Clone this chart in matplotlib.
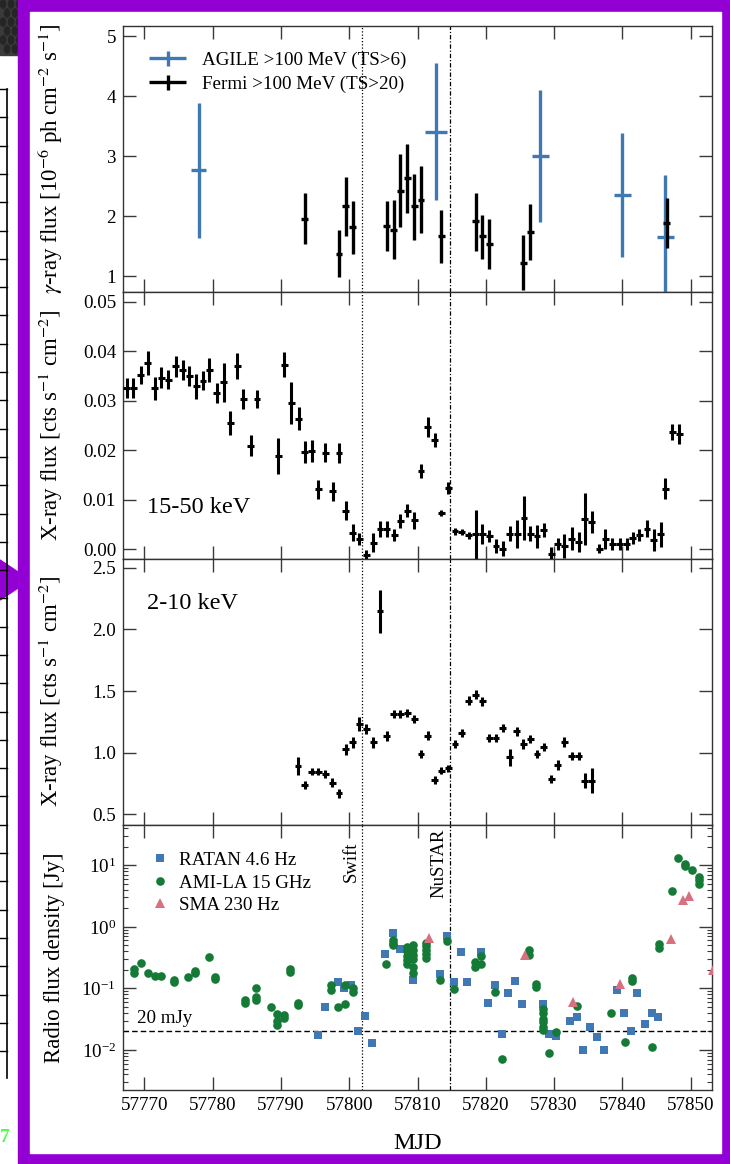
import numpy as np
import matplotlib
matplotlib.use("Agg")
import matplotlib.pyplot as plt
from matplotlib.patches import Rectangle, Polygon, Circle
from matplotlib.lines import Line2D
from matplotlib.legend_handler import HandlerErrorbar
from matplotlib.ticker import FixedLocator, FormatStrFormatter, LogLocator, NullFormatter

plt.rcParams["font.family"] = ["Liberation Serif", "DejaVu Serif"]
plt.rcParams["mathtext.fontset"] = "stix"

# ---------------- gamma rays ----------------
agile_mjd = [57778.0, 57812.7, 57828.0, 57840.0, 57846.3]
agile_flux = [2.77, 3.41, 3.01, 2.35, 1.66]
agile_err_hi = [1.12, 1.15, 1.10, 1.03, 1.03]
agile_err_lo = [1.13, 1.14, 1.11, 1.03, 0.95]
agile_halfbin = [1.1, 1.6, 1.2, 1.3, 1.2]

fermi_mjd = [57793.5, 57798.5, 57799.5, 57800.5, 57805.5, 57806.5, 57807.5, 57808.5,
             57809.5, 57810.5, 57813.5, 57818.5, 57819.5, 57820.5, 57825.5, 57826.5, 57846.5]
fermi_flux = [1.96, 1.38, 2.17, 1.82, 1.84, 1.78, 2.43, 2.64,
              2.17, 2.28, 1.68, 1.92, 1.67, 1.54, 1.23, 1.74, 1.89]
fermi_err_hi = [0.43, 0.39, 0.49, 0.44, 0.41, 0.49, 0.60, 0.57,
                0.54, 0.56, 0.43, 0.47, 0.36, 0.42, 0.46, 0.47, 0.42]
fermi_err_lo = [0.42, 0.39, 0.50, 0.44, 0.41, 0.49, 0.61, 0.58,
                0.57, 0.55, 0.45, 0.49, 0.38, 0.42, 0.45, 0.47, 0.41]

# ---------------- hard X-rays, 15-50 keV ----------------
bat_mjd = [57767.4, 57768.4, 57769.5, 57770.5, 57771.5, 57772.5, 57773.5, 57774.6, 57775.6, 57776.6,
           57777.6, 57778.6, 57779.5, 57780.6, 57781.6, 57782.6, 57783.6, 57784.5, 57785.6, 57786.5,
           57789.6, 57790.5, 57791.5, 57792.6, 57793.5, 57794.5, 57795.5, 57796.5, 57797.6, 57798.5,
           57799.5, 57800.5, 57801.5, 57802.5, 57803.5, 57804.5, 57805.5, 57806.6, 57807.5, 57808.5,
           57809.5, 57810.5, 57811.5, 57812.5, 57813.5, 57814.5, 57815.5, 57816.5, 57817.5, 57818.5,
           57819.5, 57820.5, 57821.5, 57822.5, 57823.5, 57824.6, 57825.6, 57826.5, 57827.5, 57828.5,
           57829.6, 57830.5, 57831.5, 57832.6, 57833.6, 57834.5, 57835.5, 57836.6, 57837.5, 57838.5,
           57839.6, 57840.6, 57841.5, 57842.5, 57843.6, 57844.6, 57845.6, 57846.3, 57847.3, 57848.3]
bat_flux = [0.0326, 0.0326, 0.0352, 0.0377, 0.0325, 0.0347, 0.0343, 0.0370, 0.0362, 0.0350,
            0.0329, 0.0341, 0.0362, 0.0316, 0.0337, 0.0255, 0.0370, 0.0304, 0.0209, 0.0304,
            0.0188, 0.0373, 0.0296, 0.0264, 0.0196, 0.0198, 0.0121, 0.0195, 0.0117, 0.0194,
            0.0078, 0.0033, 0.0020, -0.0011, 0.0013, 0.0041, 0.0041, 0.0028, 0.0057, 0.0078,
            0.0058, 0.0158, 0.0247, 0.0220, 0.0073, 0.0124, 0.0036, 0.0034, 0.0028, 0.0030,
            0.0031, 0.0026, 0.0006, 0.0001, 0.0031, 0.0031, 0.0063, 0.0031, 0.0026, 0.0039,
            -0.0009, 0.0011, 0.0007, 0.0021, 0.0014, 0.0061, 0.0055, 0.0001, 0.0021, 0.0011,
            0.0011, 0.0011, 0.0022, 0.0028, 0.0041, 0.0019, 0.0030, 0.0122, 0.0237, 0.0233]
bat_err = [0.0020, 0.0020, 0.0018, 0.0024, 0.0023, 0.0021, 0.0020, 0.0021, 0.0020, 0.0020,
           0.0025, 0.0020, 0.0025, 0.0020, 0.0039, 0.0025, 0.0026, 0.0020, 0.0021, 0.0018,
           0.0036, 0.0025, 0.0042, 0.0024, 0.0022, 0.0022, 0.0019, 0.0019, 0.0019, 0.0020,
           0.0019, 0.0017, 0.0012, 0.0010, 0.0019, 0.0016, 0.0016, 0.0012, 0.0015, 0.0014,
           0.0018, 0.0015, 0.0021, 0.0014, 0.0006, 0.0012, 0.0007, 0.0006, 0.0007, 0.0049,
           0.0020, 0.0012, 0.0014, 0.0015, 0.0015, 0.0028, 0.0045, 0.0015, 0.0023, 0.0014,
           0.0014, 0.0012, 0.0024, 0.0023, 0.0020, 0.0052, 0.0023, 0.0009, 0.0020, 0.0012,
           0.0012, 0.0012, 0.0012, 0.0012, 0.0017, 0.0022, 0.0025, 0.0021, 0.0017, 0.0020]

# ---------------- soft X-rays, 2-10 keV ----------------
xrt_mjd = [57792.5, 57793.5, 57794.5, 57795.5, 57796.5, 57797.5, 57798.5, 57799.5, 57800.5, 57801.5,
           57802.5, 57803.5, 57804.5, 57805.5, 57806.5, 57807.5, 57808.5, 57809.5, 57810.5, 57811.5,
           57812.5, 57813.5, 57814.5, 57815.5, 57816.5, 57817.5, 57818.5, 57819.5, 57820.5, 57821.5,
           57822.5, 57823.5, 57824.5, 57825.5, 57826.5, 57827.5, 57828.5, 57829.6, 57830.5, 57831.5,
           57832.6, 57833.6, 57834.5, 57835.5]
xrt_flux = [0.893, 0.739, 0.847, 0.847, 0.828, 0.757, 0.671, 1.028, 1.085, 1.232,
            1.191, 1.085, 2.148, 1.137, 1.313, 1.313, 1.321, 1.272, 0.990, 1.137,
            0.779, 0.855, 0.874, 1.069, 1.159, 1.421, 1.470, 1.416, 1.118, 1.118,
            1.199, 0.963, 1.172, 1.072, 1.110, 0.990, 1.045, 0.787, 0.901, 1.085,
            0.974, 0.974, 0.774, 0.774]
xrt_err = [0.075, 0.035, 0.030, 0.030, 0.035, 0.035, 0.035, 0.045, 0.045, 0.055,
           0.040, 0.045, 0.175, 0.040, 0.035, 0.035, 0.035, 0.035, 0.035, 0.035,
           0.030, 0.030, 0.030, 0.035, 0.035, 0.035, 0.035, 0.035, 0.035, 0.035,
           0.035, 0.070, 0.035, 0.040, 0.035, 0.035, 0.035, 0.035, 0.040, 0.040,
           0.035, 0.035, 0.060, 0.100]

# ---------------- radio ----------------
ratan_mjd = [57795.4, 57796.4, 57798.3, 57799.3, 57800.2, 57801.3, 57802.3, 57803.3, 57805.3, 57806.4,
             57807.4, 57809.4, 57813.3, 57814.3, 57815.3, 57816.3, 57817.3, 57819.3, 57820.3, 57821.3,
             57822.3, 57823.3, 57824.3, 57825.3, 57828.3, 57829.3, 57830.3, 57832.3, 57833.3, 57834.3,
             57835.3, 57836.3, 57837.3, 57839.2, 57840.3, 57841.3, 57842.2, 57843.3, 57844.3, 57845.2]
ratan_flux = [0.0175, 0.0505, 0.125, 0.100, 0.113, 0.0203, 0.036, 0.013, 0.356, 0.78,
              0.434, 0.136, 0.171, 0.715, 0.125, 0.394, 0.128, 0.394, 0.057, 0.113,
              0.018, 0.085, 0.131, 0.055, 0.0557, 0.018, 0.017, 0.030, 0.0347, 0.010,
              0.0233, 0.016, 0.010, 0.094, 0.040, 0.020, 0.085, 0.026, 0.040, 0.0347]

ami_mjd = [57768.5, 57768.5, 57769.5, 57770.5, 57771.6, 57772.5, 57774.4, 57774.4, 57776.4, 57777.4,
           57777.4, 57779.4, 57780.4, 57780.4, 57784.7, 57784.7, 57786.4, 57786.4, 57786.4, 57788.5,
           57789.4, 57789.4, 57789.4, 57790.4, 57790.4, 57791.4, 57791.4, 57792.5, 57792.5, 57797.4,
           57797.4, 57798.4, 57799.4, 57799.4, 57800.5, 57800.5, 57805.4, 57806.4, 57806.4, 57806.4,
           57808.4, 57808.4, 57808.4, 57808.4, 57808.4, 57809.3, 57809.3, 57809.3, 57809.3, 57809.3,
           57809.3, 57811.3, 57811.3, 57811.3, 57811.3, 57811.3, 57813.3, 57814.3, 57815.3, 57818.4,
           57818.4, 57819.3, 57819.3, 57821.3, 57822.3, 57826.3, 57826.3, 57827.3, 57827.3, 57828.3,
           57828.3, 57828.3, 57828.3, 57828.3, 57828.3, 57829.3, 57830.3, 57833.3, 57838.3, 57840.4,
           57841.4, 57841.4, 57844.4, 57845.3, 57845.3, 57847.3, 57848.2, 57849.2, 57849.2, 57850.2,
           57851.2, 57851.2, 57851.2]
ami_flux = [0.21, 0.175, 0.26, 0.18, 0.16, 0.16, 0.135, 0.125, 0.155, 0.19,
            0.175, 0.327, 0.155, 0.14, 0.065, 0.058, 0.10, 0.073, 0.066, 0.050,
            0.039, 0.030, 0.025, 0.037, 0.033, 0.203, 0.186, 0.059, 0.054, 0.113,
            0.094, 0.050, 0.055, 0.113, 0.100, 0.088, 0.245, 0.61, 0.55, 0.50,
            0.47, 0.40, 0.34, 0.29, 0.25, 0.50, 0.42, 0.35, 0.30, 0.22,
            0.18, 0.55, 0.48, 0.42, 0.36, 0.31, 0.136, 0.59, 0.097, 0.27,
            0.22, 0.33, 0.25, 0.088, 0.0071, 0.42, 0.35, 0.116, 0.106, 0.047,
            0.040, 0.032, 0.028, 0.024, 0.021, 0.0088, 0.0198, 0.052, 0.040, 0.0137,
            0.145, 0.133, 0.0112, 0.52, 0.45, 3.79, 13.2, 10.6, 9.6, 8.3,
            6.46, 5.7, 4.9]

sma_mjd = [57811.7, 57825.8, 57832.8, 57839.6, 57847.1, 57848.9, 57849.8, 57853.3]
sma_flux = [0.66, 0.35, 0.061, 0.12, 0.63, 2.7, 3.18, 0.2]

swift_mjd = 57801.8
nustar_mjd = 57814.7
radio_floor = 0.02

C_BLUE = "#3f78b2"
C_GREEN = "#147a36"
C_PINK = "#d8717f"
C_FRAME = "#9300d4"
TICK_FS = 13.7
LABEL_FS = 16.5

W, H = 730, 1164
fig = plt.figure(figsize=(W / 100, H / 100), dpi=100)


def box(x0, y0, x1, y1):
    """pixel box (top-left origin) -> figure fraction rect"""
    return [x0 / W, 1 - y1 / H, (x1 - x0) / W, (y1 - y0) / H]


def frac(x, y):
    return x / W, 1 - y / H


# ---- surrounding slide decoration ----
ft = fig.transFigure
fig.patches.append(Rectangle(frac(0, 55), 18 / W, 55 / H, transform=ft, color="#3a3a3a", zorder=-5))
for i in range(4):
    for j in range(6):
        cx, cy = 3 + 8 * i + (4 if j % 2 else 0), 4 + 9 * j
        fig.patches.append(Circle(frac(cx, cy), 2.6 / W, transform=ft, color="#252525", zorder=-4))
# neighbouring panel peeking in on the left
fig.add_artist(Line2D([7 / W, 7 / W], [1 - 89 / H, 1 - 1078 / H], transform=ft, color="k", lw=1.2))
for yy in np.arange(89, 1079, 28.3):
    fig.add_artist(Line2D([0, 7 / W], [1 - yy / H] * 2, transform=ft, color="k", lw=1.0))
fig.text(0 / W, 1 - 1142 / H, "7", color="#4dff40", fontsize=14, fontweight="bold", transform=ft)
fig.patches.append(Polygon([frac(0, 560), frac(30, 580), frac(0, 600)], closed=True, transform=ft,
                           color=C_FRAME, zorder=-3))
# purple frame
fig.patches.append(Rectangle(frac(18, 1164), (W - 18) / W, 1, transform=ft, color=C_FRAME, zorder=-2))
fig.patches.append(Rectangle(frac(30, 1153), (721 - 30) / W, (1153 - 12) / H, transform=ft,
                             color="white", zorder=-1))

# ---- panels ----
xl, xr = 123, 712.3
tops = [26, 292, 558.5, 825, 1090]
axes = []
for k in range(4):
    ax = fig.add_axes(box(xl, tops[k], xr, tops[k + 1]), sharex=axes[0] if axes else None)
    axes.append(ax)
ax1, ax2, ax3, ax4 = axes

for ax in axes:
    ax.set_xlim(57766.88, 57853.16)
    ax.xaxis.set_major_locator(FixedLocator(np.arange(57770, 57851, 10)))
    ax.tick_params(which="major", direction="in", top=True, right=True, length=9.5, width=1.0,
                   color="#3a3a3a", labelsize=TICK_FS, pad=5)
    ax.tick_params(which="minor", direction="in", top=True, right=True, length=3.5, width=0.8,
                   color="#3a3a3a")
    for s in ax.spines.values():
        s.set_color("#333333")
        s.set_linewidth(1.0)
    ax.axvline(swift_mjd, color="k", ls=(0, (1, 1.6)), lw=0.9, zorder=1)
    ax.axvline(nustar_mjd, color="k", ls=(0, (3.5, 1.5, 1, 1.5)), lw=0.9, zorder=1)
    if ax is not ax4:
        ax.tick_params(labelbottom=False)

# gamma rays
agile = ax1.errorbar(agile_mjd, agile_flux, yerr=[agile_err_lo, agile_err_hi], xerr=agile_halfbin,
                     fmt="none", ecolor=C_BLUE, elinewidth=2.4, capsize=0,
                     label="AGILE >100 MeV (TS>6)", zorder=3)
fermi = ax1.errorbar(fermi_mjd, fermi_flux, yerr=[fermi_err_lo, fermi_err_hi], xerr=0.5,
                     fmt="none", ecolor="k", elinewidth=2.4, capsize=0,
                     label="Fermi >100 MeV (TS>20)", zorder=4)
ax1.set_ylim(0.74, 5.17)
ax1.yaxis.set_major_locator(FixedLocator([1, 2, 3, 4, 5]))
ax1.set_ylabel(r"$\gamma$-ray flux [10$^{-6}$ ph cm$^{-2}$ s$^{-1}$]", fontsize=LABEL_FS)
eb_handler = HandlerErrorbar(xerr_size=0.97, yerr_size=0.4)
ax1.legend(loc="upper left", bbox_to_anchor=(0.025, 0.947), frameon=False, fontsize=TICK_FS,
           handlelength=1.95, handletextpad=0.85, labelspacing=0.36, borderaxespad=0.2,
           handler_map={agile: eb_handler, fermi: eb_handler})

# 15-50 keV
ax2.errorbar(bat_mjd, bat_flux, yerr=bat_err, xerr=0.5, fmt="none", ecolor="k",
             elinewidth=2.2, capsize=0, zorder=3)
ax2.set_ylim(-0.0019, 0.052)
ax2.yaxis.set_major_locator(FixedLocator([0.0, 0.01, 0.02, 0.03, 0.04, 0.05]))
ax2.yaxis.set_major_formatter(FormatStrFormatter("%.2f"))
ax2.set_ylabel(r"X-ray flux [cts s$^{-1}$ cm$^{-2}$]", fontsize=LABEL_FS)
ax2.text(0.04, 0.17, "15-50 keV", transform=ax2.transAxes, fontsize=17.5)

# 2-10 keV
ax3.errorbar(xrt_mjd, xrt_flux, yerr=xrt_err, xerr=0.5, fmt="none", ecolor="k",
             elinewidth=2.2, capsize=0, zorder=3)
ax3.set_ylim(0.413, 2.576)
ax3.yaxis.set_major_locator(FixedLocator([0.5, 1.0, 1.5, 2.0, 2.5]))
ax3.yaxis.set_major_formatter(FormatStrFormatter("%.1f"))
ax3.set_ylabel(r"X-ray flux [cts s$^{-1}$ cm$^{-2}$]", fontsize=LABEL_FS)
ax3.text(0.04, 0.81, "2-10 keV", transform=ax3.transAxes, fontsize=17.5)

# radio
ax4.set_yscale("log")
ax4.plot(ratan_mjd, ratan_flux, ls="none", marker="s", ms=5.6, color=C_BLUE, mew=0,
         label="RATAN 4.6 Hz", zorder=3)
ax4.plot(ami_mjd, ami_flux, ls="none", marker="o", ms=6.2, color=C_GREEN, mew=0,
         label="AMI-LA 15 GHz", zorder=4)
ax4.plot(sma_mjd, sma_flux, ls="none", marker="^", ms=6.6, color=C_PINK, mew=0,
         label="SMA 230 Hz", zorder=5)
ax4.axhline(radio_floor, color="k", ls=(0, (4, 2.2)), lw=1.0, zorder=2)
ax4.text(57769.0, radio_floor * 1.35, "20 mJy", fontsize=TICK_FS)
ax4.set_ylim(2.24e-3, 45)
ax4.yaxis.set_major_locator(FixedLocator([1e-2, 1e-1, 1e0, 1e1]))
ax4.yaxis.set_minor_locator(LogLocator(base=10, subs=np.arange(2, 10), numticks=20))
ax4.yaxis.set_minor_formatter(NullFormatter())
ax4.set_ylabel("Radio flux density [Jy]", fontsize=LABEL_FS)
ax4.set_xlabel("MJD", fontsize=17.5, labelpad=14)
ax4.text(swift_mjd - 0.25, 0.936, "Swift", transform=ax4.get_xaxis_transform(), rotation=90,
         ha="right", va="top", fontsize=13.5)
ax4.text(nustar_mjd - 0.25, 0.987, "NuSTAR", transform=ax4.get_xaxis_transform(), rotation=90,
         ha="right", va="top", fontsize=13.5)
ax4.legend(loc="upper left", bbox_to_anchor=(0.03, 0.942), frameon=False, fontsize=TICK_FS,
           handlelength=0.8, handletextpad=0.6, labelspacing=0.27, borderaxespad=0.2)

for ax in axes:
    ax.yaxis.set_label_coords(-0.098, 0.5)

fig.savefig("out.png", dpi=100)
